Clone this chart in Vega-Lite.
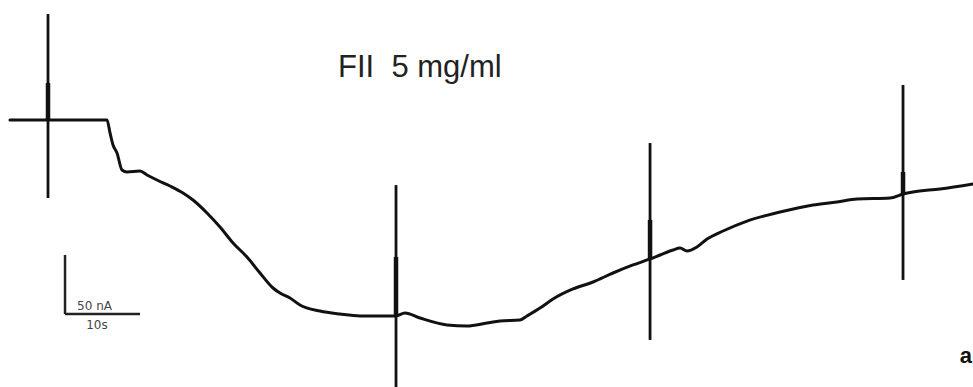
{
  "$schema": "https://vega.github.io/schema/vega-lite/v6.json",
  "width": 973,
  "height": 387,
  "autosize": {"type": "none"},
  "padding": 0,
  "background": "white",
  "config": {"view": {"stroke": null}},
  "datasets": {
    "trace": [
      {"t": 1.33, "i": 222.5}, {"t": 6.4, "i": 222.5}, {"t": 14.27, "i": 222.5},
      {"t": 14.67, "i": 211.7}, {"t": 15.07, "i": 201.7}, {"t": 15.6, "i": 195.0},
      {"t": 16.27, "i": 180.8}, {"t": 16.93, "i": 179.2}, {"t": 18.67, "i": 180.0},
      {"t": 19.6, "i": 176.7}, {"t": 20.93, "i": 172.5}, {"t": 22.67, "i": 167.5},
      {"t": 24.4, "i": 161.7}, {"t": 25.73, "i": 155.8}, {"t": 27.6, "i": 145.0},
      {"t": 29.33, "i": 133.3}, {"t": 31.07, "i": 120.0}, {"t": 32.93, "i": 108.3},
      {"t": 34.67, "i": 95.0}, {"t": 36.4, "i": 82.5}, {"t": 37.33, "i": 78.3},
      {"t": 38.67, "i": 74.2}, {"t": 40.0, "i": 68.3}, {"t": 42.67, "i": 63.3},
      {"t": 45.33, "i": 60.8}, {"t": 48.0, "i": 59.2}, {"t": 50.67, "i": 59.2},
      {"t": 52.8, "i": 59.2}, {"t": 54.0, "i": 61.7}, {"t": 56.0, "i": 57.5},
      {"t": 59.6, "i": 51.7}, {"t": 62.27, "i": 50.8}, {"t": 64.93, "i": 53.3},
      {"t": 66.67, "i": 55.0}, {"t": 69.33, "i": 55.8}, {"t": 70.27, "i": 59.2},
      {"t": 72.0, "i": 65.8}, {"t": 73.73, "i": 73.3}, {"t": 76.4, "i": 81.7},
      {"t": 79.07, "i": 87.5}, {"t": 81.73, "i": 95.0}, {"t": 84.4, "i": 101.7},
      {"t": 86.67, "i": 106.7}, {"t": 88.0, "i": 110.0}, {"t": 89.73, "i": 114.2},
      {"t": 90.67, "i": 115.8}, {"t": 91.6, "i": 113.3}, {"t": 92.93, "i": 116.7},
      {"t": 94.27, "i": 123.3}, {"t": 96.4, "i": 130.0}, {"t": 99.6, "i": 138.3},
      {"t": 104.0, "i": 145.8}, {"t": 108.4, "i": 151.7}, {"t": 111.6, "i": 154.2},
      {"t": 114.27, "i": 156.7}, {"t": 118.67, "i": 157.5}, {"t": 120.4, "i": 160.8},
      {"t": 121.73, "i": 162.5}, {"t": 125.33, "i": 165.0}, {"t": 129.73, "i": 169.2}
    ],
    "artifacts": [
      {"t": 6.4, "top": 310.8, "bottom": 157.5, "core_top": 253.3, "core_bottom": 222.5},
      {"t": 52.8, "top": 168.3, "bottom": -5.0, "core_top": 108.3, "core_bottom": 60.0},
      {"t": 86.67, "top": 203.3, "bottom": 39.2, "core_top": 139.2, "core_bottom": 105.8},
      {"t": 120.4, "top": 251.7, "bottom": 89.2, "core_top": 179.2, "core_bottom": 160.0}
    ],
    "scalebar": [
      {"t": 8.67, "t2": 8.67, "i": 110.0, "i2": 60.8},
      {"t": 8.67, "t2": 18.67, "i": 60.8, "i2": 60.8}
    ],
    "scalelabels": [
      {"t": 12.6, "i": 64.5, "label": "50 nA"},
      {"t": 12.93, "i": 48.0, "label": "10s"}
    ],
    "annotations": [
      {"t": 45.07, "i": 258.3, "label": "FII\u00a0 5 mg/ml"}
    ],
    "panel": [
      {"t": 129.6, "i": 20.0, "label": "a"}
    ]
  },
  "layer": [
    {
      "data": {"name": "trace"},
      "mark": {"type": "line", "color": "#111111", "strokeWidth": 3, "strokeJoin": "round", "strokeCap": "round", "interpolate": "monotone"},
      "encoding": {
        "x": {"field": "t", "type": "quantitative", "axis": null, "scale": {"domain": [0, 129.73], "nice": false, "zero": false}},
        "y": {"field": "i", "type": "quantitative", "axis": null, "scale": {"domain": [0, 322.5], "nice": false, "zero": false}}
      }
    },
    {
      "data": {"name": "artifacts"},
      "mark": {"type": "rule", "color": "#111111", "strokeWidth": 2.8},
      "encoding": {
        "x": {"field": "t", "type": "quantitative"},
        "y": {"field": "top", "type": "quantitative"},
        "y2": {"field": "bottom"}
      }
    },
    {
      "data": {"name": "artifacts"},
      "mark": {"type": "rule", "color": "#111111", "strokeWidth": 4.5},
      "encoding": {
        "x": {"field": "t", "type": "quantitative"},
        "y": {"field": "core_top", "type": "quantitative"},
        "y2": {"field": "core_bottom"}
      }
    },
    {
      "data": {"name": "scalebar"},
      "mark": {"type": "rule", "color": "#222222", "strokeWidth": 2.5},
      "encoding": {
        "x": {"field": "t", "type": "quantitative"},
        "x2": {"field": "t2"},
        "y": {"field": "i", "type": "quantitative"},
        "y2": {"field": "i2"}
      }
    },
    {
      "data": {"name": "scalelabels"},
      "mark": {"type": "text", "font": "DejaVu Sans", "fontSize": 12, "color": "#444444", "align": "center", "baseline": "alphabetic"},
      "encoding": {
        "x": {"field": "t", "type": "quantitative"},
        "y": {"field": "i", "type": "quantitative"},
        "text": {"field": "label"}
      }
    },
    {
      "data": {"name": "annotations"},
      "mark": {"type": "text", "font": "Liberation Sans", "fontSize": 31, "color": "#222222", "align": "left", "baseline": "alphabetic"},
      "encoding": {
        "x": {"field": "t", "type": "quantitative"},
        "y": {"field": "i", "type": "quantitative"},
        "text": {"field": "label"}
      }
    },
    {
      "data": {"name": "panel"},
      "mark": {"type": "text", "font": "Liberation Sans", "fontSize": 22, "fontWeight": "bold", "color": "#111111", "align": "right", "baseline": "alphabetic"},
      "encoding": {
        "x": {"field": "t", "type": "quantitative"},
        "y": {"field": "i", "type": "quantitative"},
        "text": {"field": "label"}
      }
    }
  ]
}
